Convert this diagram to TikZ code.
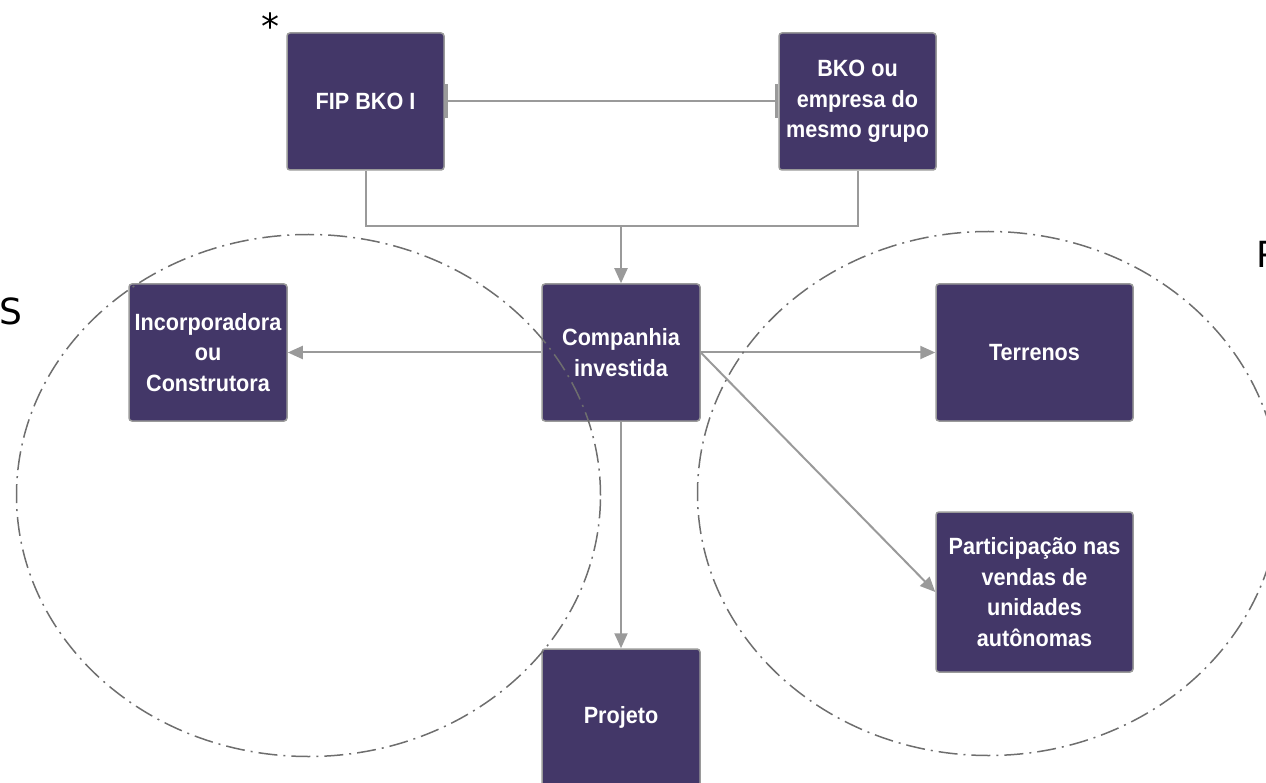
\documentclass[tikz,border=0pt]{standalone}
\usepackage{fontspec}
\setmainfont{Liberation Sans}
\newfontfamily\boxfont[FakeStretch=0.92]{Liberation Sans}
\newfontfamily\dvs{DejaVu Sans}
\usetikzlibrary{arrows.meta}
\definecolor{boxfill}{HTML}{433768}
\definecolor{edge}{HTML}{9A9A9A}
\definecolor{ringcol}{HTML}{6E6E6E}
\tikzset{
  stepbox/.style={draw=edge, line width=1.5pt, fill=boxfill, rounded corners=3pt,
    text=white, font=\boxfont\bfseries\fontsize{23.5}{30.5}\selectfont, align=center,
    inner sep=0pt},
  conn/.style={draw=edge, line width=2pt},
  arr/.style={conn, -{Triangle[length=15pt,width=13pt]}},
  ring/.style={draw=ringcol, line width=1.5pt, dash pattern=on 19pt off 6pt on 2pt off 6pt},
  biglabel/.style={font=\dvs\fontsize{36}{40}\selectfont, text=black, inner sep=0pt}
}
\begin{document}
\begin{tikzpicture}[x=1pt,y=-1pt]
\useasboundingbox (0,0) rectangle (1266,783);
% boxes
\node[stepbox, minimum width=157pt, minimum height=137pt] (fip) at (365.5,101.5) {FIP BKO I};
\node[stepbox, minimum width=157pt, minimum height=137pt] (bko) at (857.5,101.5) {BKO ou\\empresa do\\mesmo grupo};
\node[stepbox, minimum width=158pt, minimum height=137pt] (cia) at (621,352.5) {Companhia\\investida};
\node[stepbox, minimum width=158pt, minimum height=137pt] (inc) at (208,352.5) {Incorporadora\\ou\\Construtora};
\node[stepbox, minimum width=197pt, minimum height=137pt] (ter) at (1034.5,352.5) {Terrenos};
\node[stepbox, minimum width=197pt, minimum height=160pt] (par) at (1034.5,592) {Participação nas\\vendas de\\unidades\\autônomas};
\node[stepbox, minimum width=158pt, minimum height=137pt] (pro) at (621,717.5) {Projeto};
% connectors
\coordinate (jl) at (365.5,226);
\coordinate (jr) at (857.5,226);
\coordinate (jm) at (621,226);
\draw[conn, {Bar[width=34pt,line width=3pt]}-{Bar[width=34pt,line width=3pt]}] (fip.east) -- (bko.west);
\draw[conn] (fip.south) -- (jl) -- (jr) -- (bko.south);
\draw[arr] (jm) -- (cia.north);
\draw[arr] (cia.west) -- (inc.east);
\draw[arr] (cia.east) -- (ter.west);
\draw[arr] (cia.east) -- (par.west);
\draw[arr] (cia.south) -- (pro.north);
% rings
\draw[ring] (308.5,495.5) ellipse [x radius=292pt, y radius=261pt];
\draw[ring] (988.5,493.5) ellipse [x radius=291pt, y radius=262pt];
% labels
\node[biglabel, anchor=center] (star) at (270,26) {*};
\node[biglabel, anchor=base west] (sl) at (-1,325) {S};
\node[biglabel, anchor=base west] (pl) at (1256,268) {P};
\end{tikzpicture}
\end{document}
